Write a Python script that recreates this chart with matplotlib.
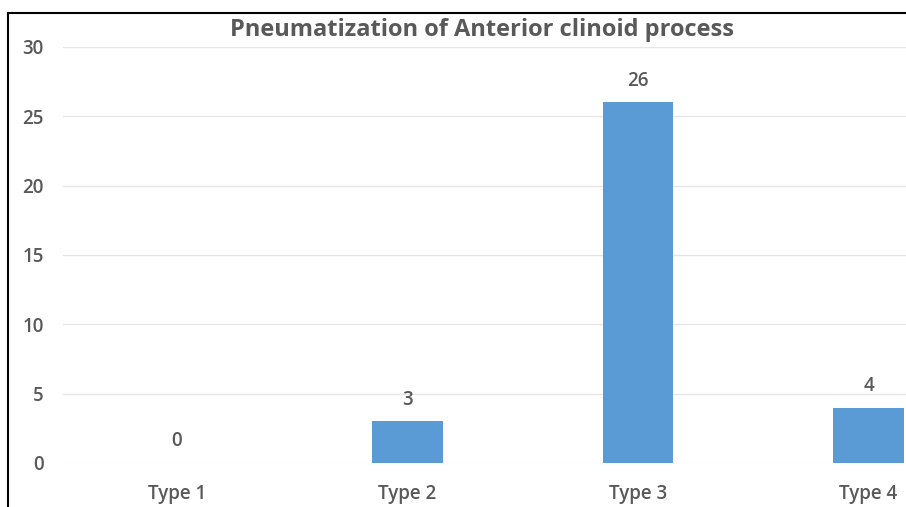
import numpy as np
import matplotlib.pyplot as plt
from matplotlib.lines import Line2D

# data
categories = ['Type 1', 'Type 2', 'Type 3', 'Type 4']
counts = [0, 3, 26, 4]
title = 'Pneumatization of Anterior clinoid process'

bar_color = '#5B9BD5'
text_color = '#595959'
grid_color = '#E6E6E6'

plt.rcParams['font.family'] = ['Open Sans', 'DejaVu Sans']

W, H = 906, 507
fig = plt.figure(figsize=(W / 100, H / 100), dpi=100)
fig.patch.set_facecolor('white')

# axes placed in pixel terms: left 63, right 906, y=0 at 463, y=30 at 47
left, right, bottom, top = 63, 906, 463, 47
ax = fig.add_axes([left / W, 1 - bottom / H, (right - left) / W, (bottom - top) / H])

x = np.arange(len(categories))
ax.bar(x, counts, width=0.305, color=bar_color, zorder=3)

ax.set_ylim(0, 30)
ax.set_yticks(np.arange(0, 31, 5))
# category spacing is ~230.5 px; the chart is cut off on the right
step = 230.5
x0 = -(177 - left) / step
ax.set_xlim(x0, x0 + (right - left) / step)
ax.set_xticks(x)
ax.set_xticklabels(categories)

ax.grid(axis='y', color=grid_color, linewidth=1, zorder=0)
for s in ax.spines.values():
    s.set_visible(False)
ax.tick_params(axis='both', length=0, colors=text_color, labelsize=13.5)
ax.tick_params(axis='y', pad=14)
ax.tick_params(axis='x', pad=15)
for lab in ax.get_xticklabels() + ax.get_yticklabels():
    lab.set_fontweight('semibold')

for xi, v in zip(x, counts):
    ax.annotate(str(v), (xi, v), xytext=(0, 15.5), textcoords='offset points',
                ha='center', va='center', fontsize=13.5, color=text_color,
                fontweight='semibold')

fig.text(482 / W, 1 - 30 / H, title, ha='center', va='center',
         fontsize=17, fontweight='bold', color=text_color)

# outer frame (only top and left edges visible in the crop)
fig.add_artist(Line2D([8 / W, 1], [1 - 13 / H, 1 - 13 / H], color='black', linewidth=1.5))
fig.add_artist(Line2D([8 / W, 8 / W], [0, 1 - 13 / H], color='black', linewidth=1.5))

fig.savefig('out.png', dpi=100)
